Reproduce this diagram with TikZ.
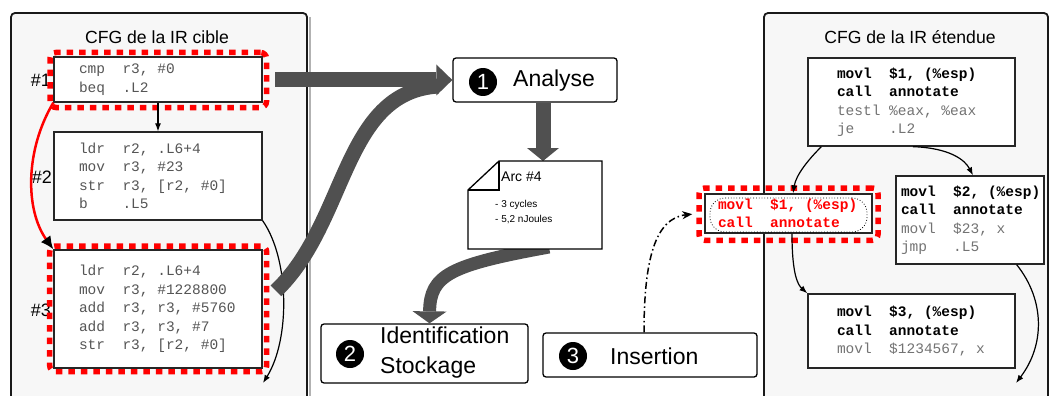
\documentclass[tikz,border=0pt]{standalone}
\usepackage{fontspec}
\setmainfont{Liberation Sans}
\setsansfont{Liberation Sans}
\setmonofont{Liberation Mono}
\usetikzlibrary{arrows.meta,calc}
\definecolor{panelbg}{RGB}{247,247,247}
\definecolor{thickgray}{RGB}{80,80,80}
\definecolor{codegray}{RGB}{85,85,85}
\definecolor{codelight}{RGB}{115,115,115}
\frenchspacing
\newcommand{\spc}{\phantom{x}}
\tikzset{
  panel/.style={draw=black!90, line width=1.8pt, fill=panelbg, rounded corners=4pt},
  codebox/.style={draw=black!85, line width=1.3pt, fill=white, rectangle, align=left,
    font=\ttfamily\fontsize{14.5}{18.5}\selectfont, inner ysep=0pt},
  reddots/.style={draw=red, line width=5.5pt, dash pattern=on 6.5pt off 6pt, rounded corners=6pt, inner sep=0pt},
  lbl/.style={font=\fontsize{18}{18}\selectfont, inner sep=0pt},
  ttl/.style={font=\fontsize{17.6}{20}\selectfont, inner sep=0pt},
  stepbox/.style={draw=black, line width=1.3pt, fill=white, rounded corners=3pt, rectangle, inner sep=0pt},
  numc/.style={circle, fill=black, text=white, minimum size=28pt, inner sep=0pt, font=\fontsize{22}{22}\selectfont},
  steptext/.style={font=\fontsize{23}{30}\selectfont, align=left, inner sep=0pt},
  bigarrow/.style={draw=thickgray, line width=15pt},
  flow/.style={draw=black, line width=1.2pt, -{Latex[length=8pt,width=6pt]}},
}
\begin{document}
\begin{tikzpicture}[x=1pt,y=-1pt]
\useasboundingbox (0,0) rectangle (1050,396);

% panels
\draw[black!30, line width=2pt] (309.5,17) -- (309.5,400);
\draw[panel] (11,400) -- (11,13) -- (307,13) -- (307,400);
\draw[panel] (764,400) -- (764,13) -- (1048,13) -- (1048,400);
\node[ttl] (tl) at (157,37) {CFG de la IR cible};
\node[ttl] (tr) at (910,37) {CFG de la IR étendue};

% labels
\node[lbl] (l1) at (41,80) {\#1};
\node[lbl] (l2) at (42,177) {\#2};
\node[lbl] (l3) at (41,310) {\#3};

% red dotted frames
\node[reddots, minimum width=216.5pt, minimum height=55pt] (r1) at (158.25,80) {};
\node[reddots, minimum width=217pt, minimum height=125.7pt] (r3) at (158.2,308.85) {};

% left code boxes
\node[codebox, text=codegray, text width=158pt, inner xsep=25pt, minimum height=45pt] (b1) at (158,79.5)
  {cmp\spc\spc r3,\spc\#0\\beq\spc\spc .L2};
\node[codebox, text=codegray, text width=158pt, inner xsep=25pt, minimum height=88pt] (b2) at (158,176)
  {ldr\spc\spc r2,\spc .L6+4\\mov\spc\spc r3,\spc\#23\\str\spc\spc r3,\spc [r2,\spc\#0]\\b\spc\spc\spc\spc .L5};
\node[codebox, text=codegray, text width=158pt, inner xsep=25pt, minimum height=118pt] (b3) at (158,309)
  {ldr\spc\spc r2,\spc .L6+4\\mov\spc\spc r3,\spc\#1228800\\add\spc\spc r3,\spc r3,\spc\#5760\\add\spc\spc r3,\spc r3,\spc\#7\\str\spc\spc r3,\spc [r2,\spc\#0]};

% left connectors
\draw[flow] (b1.south) -- (b2.north);
\draw[red, line width=2.5pt, -{Latex[length=13pt,width=12pt,color=black]}]
  (b1.south west) .. controls (25,150) and (25,210) .. (b3.north west);
\coordinate (e2) at (263,383);
\draw[flow] (b2.south east) .. controls (290,260) and (290,340) .. (e2);

% right panel boxes
\node[reddots, minimum width=179pt, minimum height=52.3pt] (rR) at (788.5,214.15) {};
\node[codebox, text width=149pt, inner xsep=29pt, minimum height=88pt] (R1) at (911.5,102)
  {\textbf{movl\spc\spc\$1,\spc(\%esp)}\\\textbf{call\spc\spc annotate}\\{\color{codelight}testl\spc\%eax,\spc\%eax}\\{\color{codelight}je\spc\spc\spc\spc .L2}};
\node[codebox, text width=138pt, inner xsep=5pt, minimum height=88pt] (R2) at (970,220)
  {\textbf{movl\spc\spc\$2,\spc(\%esp)}\\\textbf{call\spc\spc annotate}\\{\color{codelight}movl\spc\spc\$23,\spc x}\\{\color{codelight}jmp\spc\spc\spc .L5}};
\node[codebox, text width=149pt, inner xsep=29pt, minimum height=74pt] (R3) at (911.5,331)
  {\textbf{movl\spc\spc\$3,\spc(\%esp)}\\\textbf{call\spc\spc annotate}\\{\color{codelight}movl\spc\spc\$1234567,\spc x}};
\node[codebox, text=red, text width=141pt, inner xsep=13pt, minimum height=39pt] (rb) at (788.5,213.5)
  {\textbf{movl\spc\spc\$1,\spc(\%esp)}\\\textbf{call\spc\spc annotate}};
\node[draw=black, line width=0.8pt, dotted, rounded corners=15pt, minimum width=157pt, minimum height=34pt, inner sep=0pt] (rov) at (788.5,215) {};

% right connectors
\draw[flow] ([xshift=14pt]R1.south west) .. controls (808,160) and (796,175) .. ([xshift=4.5pt]rb.north);
\draw[flow] ([xshift=1.5pt]R1.south) .. controls (950,148) and (965,160) .. ([xshift=3pt]R2.north);
\draw[flow] ([xshift=3.5pt]rb.south) .. controls (792,275) and (798,285) .. (R3.north west);
\coordinate (e5) at (1016,383);
\draw[flow] ([xshift=-28pt]R2.south east) .. controls (1045,300) and (1045,345) .. (e5);

% step boxes
\node[stepbox, minimum width=164pt, minimum height=44pt] (an) at (535,80) {};
\node[numc] (n1) at (483,82) {1};
\node[steptext, anchor=west] (ta) at (513,81) {Analyse};

\node[stepbox, minimum width=207pt, minimum height=59pt] (id) at (424.5,353.5) {};
\node[numc] (n2) at (350,354) {2};
\node[steptext, anchor=west] (ti) at (380,353) {Identification\\Stockage};

\node[stepbox, minimum width=214pt, minimum height=44pt] (ins) at (650,355) {};
\node[numc] (n3) at (573,356) {3};
\node[steptext, anchor=west] (tn) at (610,356) {Insertion};

% note frame
\node[minimum width=134pt, minimum height=88pt, inner sep=0pt, outer sep=0pt] (note) at (535,205) {};

% thick arrows
\draw[bigarrow] ([xshift=6.5pt,yshift=18pt]r3.east) .. controls (348,222) and (342,92) .. ($(an.west)+(-14,6)$);
\draw[bigarrow, -{Triangle[width=31pt,length=16pt,line width=0pt]}] ([xshift=6pt]r1.east) -- (an.west);
\draw[bigarrow, -{Triangle[width=32pt,length=13pt,line width=0pt]}] ([xshift=8pt]an.south) -- ([xshift=8pt]note.north);
\draw[bigarrow, line width=13pt, -{Triangle[width=34pt,length=12pt,line width=0pt]}]
  ($(note.south)+(14,-2)$) .. controls (450,265) and (430,275) .. ([xshift=5pt]id.north);

% note drawn over arrow start
\draw[line width=1.3pt, fill=white, line join=miter]
  ($(note.north west)+(0,29)$) -- ($(note.north west)+(31,0)$) -- (note.north east)
  -- (note.south east) -- (note.south west) -- cycle;
\draw[line width=2pt] ($(note.north west)+(0,29)$) -- ($(note.north west)+(31,29)$) -- ($(note.north west)+(31,0)$);
\node[anchor=west, font=\fontsize{14}{14}\selectfont, inner sep=0pt] (arc) at (501,176.5) {Arc \#4};
\node[anchor=west, align=left, font=\fontsize{10}{15}\selectfont, inner sep=0pt] (cyc) at (495,212.5) {- 3 cycles\\- 5,2 nJoules};

% dash-dot insertion arrow
\draw[line width=1.5pt, dash pattern=on 7pt off 3pt on 1.5pt off 3pt, -{Stealth[length=10pt,width=8pt]}]
  ([xshift=-6pt]ins.north) .. controls (644,260) and (655,218) .. ([xshift=-4pt]rR.west);
\end{tikzpicture}
\end{document}
